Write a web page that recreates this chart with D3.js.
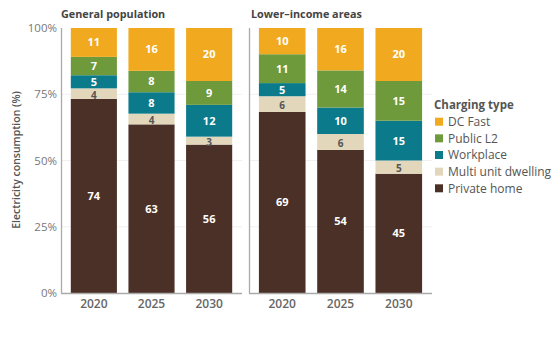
<!DOCTYPE html>
<html><head><meta charset="utf-8">
<script src="https://cdn.jsdelivr.net/npm/d3@7"></script>
<style>body{margin:0;background:#fff}svg{display:block;font-family:"Open Sans",sans-serif}</style>
</head><body><svg id="c" width="554" height="355"></svg>
<script>
const years = ["2020","2025","2030"];
const panels = ["General population","Lower–income areas"];
const types = ["Private home","Multi unit dwelling","Workplace","Public L2","DC Fast"];
const colors = ["#4b3027","#e2d7ba","#0b7b8c","#6e9a3b","#f1aa1f"];
const yTicks = [0,25,50,75,100];
// values per panel, per year, in order of `types`
const privateHome = [[74,63,56],[69,54,45]];
const multiUnit   = [[4,4,3],[6,6,5]];
const workplace   = [[5,8,12],[5,10,15]];
const publicL2    = [[7,8,9],[11,14,15]];
const dcFast      = [[11,16,20],[10,16,20]];
const series = [privateHome, multiUnit, workplace, publicL2, dcFast];

const svg = d3.select("#c");
const y = d3.scaleLinear().domain([0,1]).range([293,28]);
const yPct = d3.scaleLinear().domain([0,100]).range([293,28]);
const ranges = [[61,242],[249,432]];
const titleX = [61,251];
const color = d3.scaleOrdinal().domain(types).range(colors);

// y axis title
svg.append("text").attr("transform","translate(20,160) rotate(-90)")
  .attr("text-anchor","middle").attr("font-size",10.5).attr("font-weight",600)
  .attr("fill","#555").text("Electricity consumption (%)");

// y tick labels
svg.selectAll(".yt").data(yTicks).join("text").attr("class","yt")
  .attr("x",57).attr("y",d=>yPct(d)).attr("dy","0.35em").attr("text-anchor","end")
  .attr("font-size",11.5).attr("fill","#777").text(d=>d+"%");

panels.forEach((p,pi)=>{
  const x = d3.scaleBand().domain(years).range(ranges[pi]).paddingInner(0.2).paddingOuter(0.17);
  const g = svg.append("g");
  // gridlines
  g.selectAll(".grid").data([25,50,75]).join("line")
    .attr("x1",ranges[pi][0]).attr("x2",ranges[pi][1])
    .attr("y1",d=>yPct(d)).attr("y2",d=>yPct(d))
    .attr("stroke","#f0f0f0").attr("stroke-width",1);
  const rows = years.map((yr,i)=>{
    const o = {year:yr};
    types.forEach((t,ti)=>o[t]=series[ti][pi][i]);
    return o;
  });
  const stack = d3.stack().keys(types).offset(d3.stackOffsetExpand)(rows);
  stack.forEach(layer=>{
    const lg = g.append("g");
    const isMud = layer.key==="Multi unit dwelling";
    lg.selectAll("rect").data(layer).join("rect")
      .attr("x",d=>x(d.data.year)).attr("width",x.bandwidth())
      .attr("y",d=>y(d[1])).attr("height",d=>y(d[0])-y(d[1]))
      .attr("fill",color(layer.key));
    lg.selectAll("text").data(layer).join("text")
      .attr("x",d=>x(d.data.year)+x.bandwidth()/2)
      .attr("y",d=>(y(d[0])+y(d[1]))/2 + (isMud?1.5:0)).attr("dy","0.36em")
      .attr("text-anchor","middle").attr("font-size",isMud?10:11).attr("font-weight",700)
      .attr("fill",isMud?"#555":"#fff")
      .text(d=>d.data[layer.key]);
  });
  // axis lines
  g.append("line").attr("x1",ranges[pi][0]+0.5).attr("x2",ranges[pi][0]+0.5)
    .attr("y1",28).attr("y2",293.5).attr("stroke","#aaa").attr("stroke-width",1.3);
  g.append("line").attr("x1",ranges[pi][0]).attr("x2",ranges[pi][1])
    .attr("y1",293.5).attr("y2",293.5).attr("stroke","#aaa").attr("stroke-width",1.3);
  // x labels
  g.selectAll(".xl").data(years).join("text")
    .attr("x",d=>x(d)+x.bandwidth()/2).attr("y",304).attr("dy","0.35em")
    .attr("text-anchor","middle").attr("font-size",12).attr("font-weight",600)
    .attr("fill","#666").text(d=>d);
  // panel title
  svg.append("text").attr("x",titleX[pi]).attr("y",18).attr("font-size",10.8)
    .attr("font-weight",700).attr("fill","#444").text(p);
});

// legend
const leg = svg.append("g");
leg.append("text").attr("x",434).attr("y",105).attr("dy","0.35em")
  .attr("font-size",11.5).attr("font-weight",700).attr("fill","#555").text("Charging type");
const legItems = types.slice().reverse();
leg.selectAll(".li").data(legItems).join("g").attr("class","li")
  .attr("transform",(d,i)=>`translate(435,${121.7+i*16.65})`)
  .each(function(d){
    const s = d3.select(this);
    s.append("rect").attr("x",0).attr("y",-4).attr("width",8).attr("height",8).attr("fill",color(d));
    s.append("text").attr("x",13).attr("dy","0.35em").attr("font-size",12)
      .attr("fill","#555").text(d);
  });
</script></body></html>
